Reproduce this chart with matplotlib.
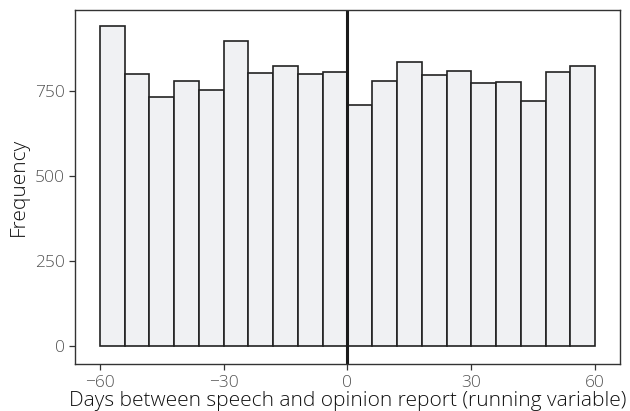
import matplotlib.pyplot as plt
import numpy as np

plt.rcParams['font.family'] = ['Open Sans', 'DejaVu Sans']

# histogram bins (6-day width) and counts
bin_edges = list(range(-60, 61, 6))
counts = [942, 800, 731, 778, 753, 897, 803, 822, 801, 805,
          709, 780, 836, 798, 807, 772, 775, 721, 804, 823]
x_ticks = [-60, -30, 0, 30, 60]
x_tick_labels = ['\u221260', '\u221230', '0', '30', '60']
y_ticks = [0, 250, 500, 750]

fig = plt.figure(figsize=(6.3, 4.11), dpi=100)
ax = fig.add_axes([0.119, 0.114, 0.865, 0.862])

edges = np.array(bin_edges)
ax.bar(edges[:-1], counts, width=np.diff(edges), align='edge',
       color='#f0f1f3', edgecolor='#222222', linewidth=1.2)
ax.axvline(0, color='#1a1a1a', linewidth=2.2)

ax.set_xlim(-66, 66)
ax.set_ylim(-53, 988)
ax.set_xticks(x_ticks)
ax.set_xticklabels(x_tick_labels)
ax.set_yticks(y_ticks)

for s in ax.spines.values():
    s.set_color('#333333')
    s.set_linewidth(1.0)
ax.tick_params(colors='#333333', labelcolor='#555555', labelsize=12.5,
               length=4, width=0.9)
for lbl in ax.get_xticklabels() + ax.get_yticklabels():
    lbl.set_fontweight('light')

ax.set_xlabel('Days between speech and opinion report (running variable)',
              fontsize=15, color='#111111', labelpad=0, fontweight='light')
ax.set_ylabel('Frequency', fontsize=15, color='#111111', labelpad=4,
              fontweight='light')

fig.savefig('out.png', dpi=100)
